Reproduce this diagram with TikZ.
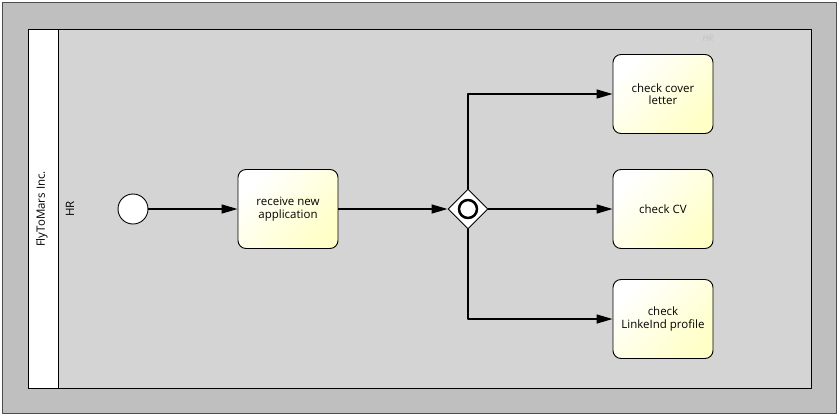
\documentclass[tikz,border=0pt]{standalone}
\usepackage{fontspec}
\setmainfont{Open Sans}
\usetikzlibrary{arrows.meta,shapes.geometric,positioning}
\tikzset{
  task/.style={draw,line width=0.9pt,rounded corners=8pt,minimum width=100pt,minimum height=79pt,
    align=center,inner sep=2pt,left color=white,right color=yellow!22,shading angle=45},
  flow/.style={->,line width=1.4pt},
}
\begin{document}
\begin{tikzpicture}[x=1pt,y=-1pt,>={Triangle[length=16pt,width=9pt]}, font=\fontsize{11.5}{12.5}\selectfont, line join=round]
		\useasboundingbox (0,0) rectangle (839,416);
		\draw[fill=black!25,draw=black!70] (2,2) rectangle (836,413);
		% pool and lane
		\draw[fill=black!17,line width=0.9pt] (28,29) rectangle (811,388);
		\draw[fill=white,line width=0.9pt] (28,29) rectangle (58,388);
		\node[rotate=90] (pool) at (42,209) {FlyToMars Inc.};
		\node[rotate=90] (lane) at (70,209) {HR};
		\node[text=black!24,font=\fontsize{9}{10}\selectfont\itshape] (lanetag) at (708,38) {HR};
		% events, tasks, gateway
		\node[circle,draw,fill=white,line width=0.9pt,minimum size=30pt,inner sep=0pt] (start) at (133,209) {};
		\node[task] (receive) at (288,209) {receive new\\application};
		\node[diamond,draw,fill=white,line width=0.9pt,minimum size=40pt,inner sep=0pt] (gw) at (468,209) {};
		\draw[line width=2.5pt] (gw.center) circle (9);
		\node[task] (cover) at (663,94) {check cover\\letter};
		\node[task] (cv) at (663,209) {check CV};
		\node[task] (linkedin) at (663,319) {check\\LinkeInd profile};
		% sequence flows
		\draw[flow] (start) -- (receive);
		\draw[flow] (receive) -- (gw);
		\draw[flow] (gw.north) |- (cover.west);
		\draw[flow] (gw) -- (cv);
		\draw[flow] (gw.south) |- (linkedin.west);
\end{tikzpicture}
\end{document}
